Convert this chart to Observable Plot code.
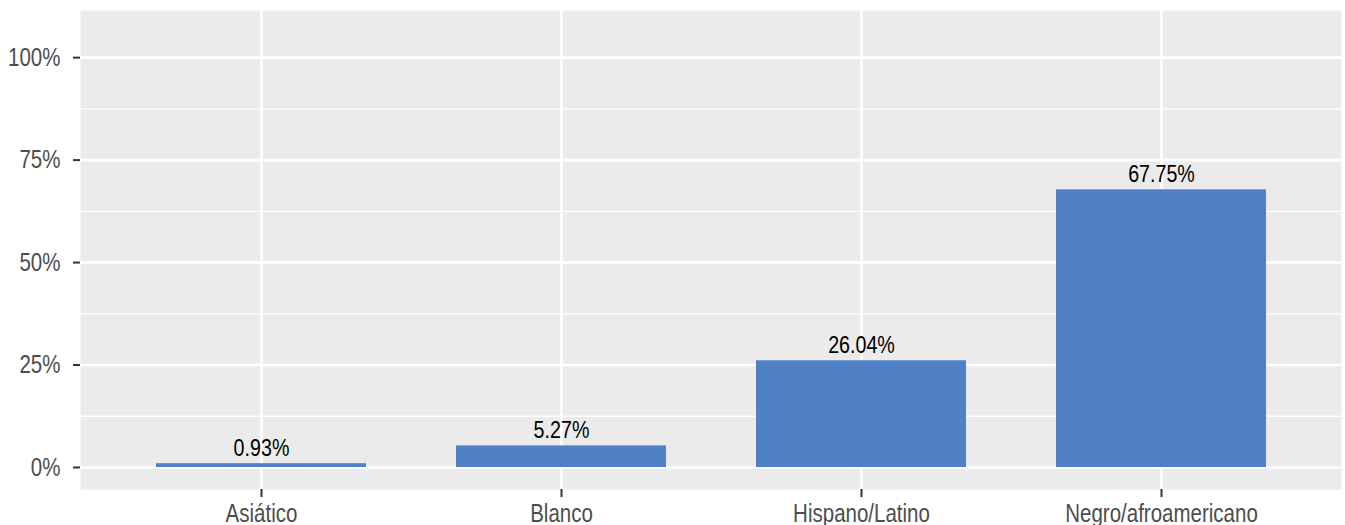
<!DOCTYPE html>
<html>
<head>
<meta charset="utf-8">
<script src="https://cdn.jsdelivr.net/npm/d3@7"></script>
<script src="https://cdn.jsdelivr.net/npm/@observablehq/plot@0.6"></script>
<style>
  html, body { margin: 0; padding: 0; background: #ffffff; }
  #chart { width: 1345px; height: 525px; overflow: hidden; }
</style>
</head>
<body>
<div id="chart"></div>
<script>
const categories = ["Asiático", "Blanco", "Hispano/Latino", "Negro/afroamericano"];
const values = [0.93, 5.27, 26.04, 67.75];
const yTicks = [0, 25, 50, 75, 100];
const yMinor = [12.5, 37.5, 62.5, 87.5];

const data = categories.map((c, i) => ({category: c, value: values[i]}));

const barColor = "#4F81C4";
const fontFamily = "'Liberation Sans', Arial, sans-serif";

const chart = Plot.plot({
  width: 1345,
  height: 525,
  marginTop: 10,
  marginBottom: 36,
  marginLeft: 80,
  marginRight: 4,
  style: {fontFamily, background: "#ffffff", overflow: "visible"},
  x: {domain: categories, paddingInner: 0.3, paddingOuter: 0.25, align: 0.5, label: null},
  y: {domain: [-5.37, 111.5], label: null},
  marks: [
    Plot.frame({fill: "#EBEBEB", stroke: null}),
    Plot.ruleY(yMinor, {stroke: "#ffffff", strokeWidth: 1.3}),
    Plot.ruleY(yTicks, {stroke: "#ffffff", strokeWidth: 2.6}),
    Plot.ruleX(categories, {x: d => d, stroke: "#ffffff", strokeWidth: 2.6}),
    Plot.barY(data, {x: "category", y: "value", fill: barColor}),
    Plot.text(data, {
      x: "category", y: "value",
      text: d => d.value.toFixed(2) + "%",
      dy: -15.5, fontSize: 24, fill: "#000000"
    }),
    Plot.axisY({
      ticks: yTicks, tickFormat: d => d + "%",
      tickSize: 7, tickPadding: 13, fontSize: 25,
      stroke: "#333333", fill: "#4D4D4D", strokeWidth: 2, label: null
    }),
    Plot.axisX({
      tickSize: 8, tickPadding: 7, fontSize: 25,
      stroke: "#333333", fill: "#4D4D4D", strokeWidth: 2, label: null
    })
  ]
});

// Condense glyphs horizontally (the reference uses a narrow sans face)
const sx = 0.82;
chart.querySelectorAll("text").forEach(el => {
  const xa = el.getAttribute("x");
  if (xa !== null && /^-?[\d.]+$/.test(xa.trim())) {
    el.setAttribute("x", String(parseFloat(xa) / sx));
  }
  const t = el.getAttribute("transform") || "";
  el.setAttribute("transform", `${t} scale(${sx},1)`.trim());
});

document.getElementById("chart").appendChild(chart);
</script>
</body>
</html>
